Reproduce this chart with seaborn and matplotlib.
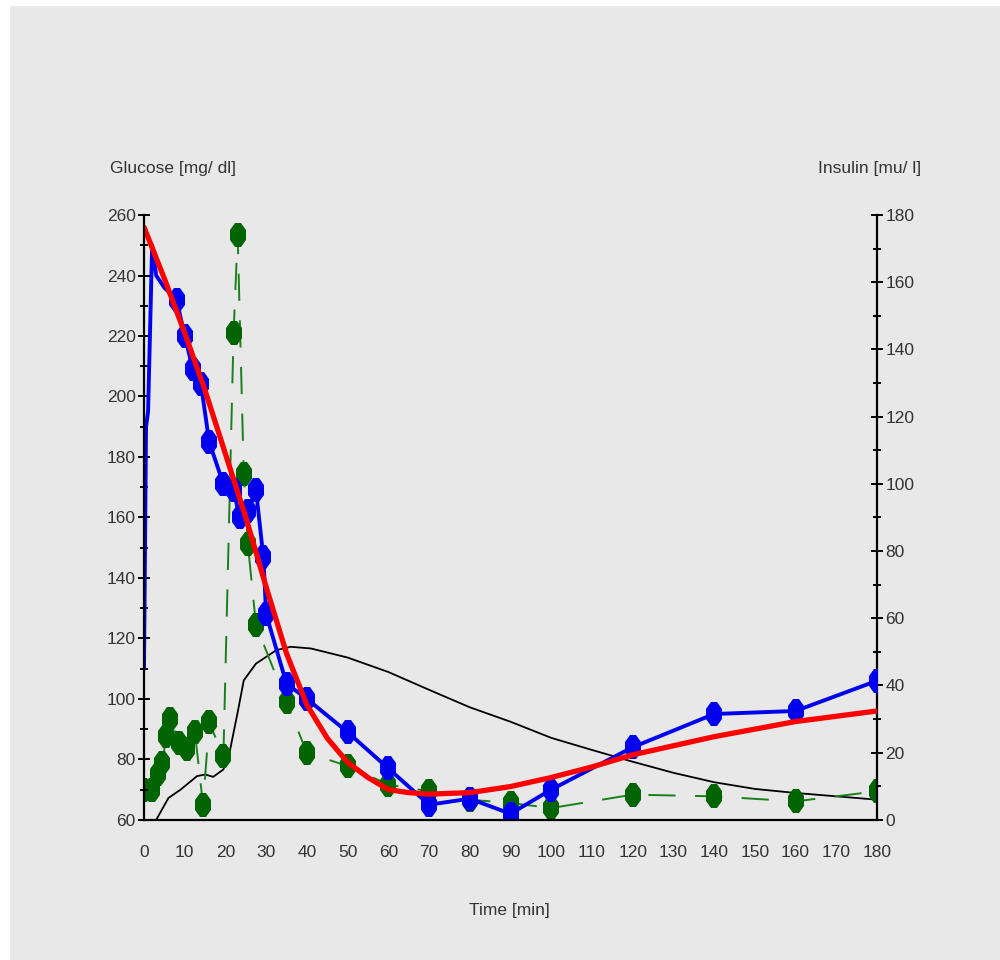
import matplotlib
matplotlib.use("Agg")
import matplotlib.pyplot as plt
from matplotlib.markers import MarkerStyle
from matplotlib.transforms import Affine2D
from matplotlib.patches import Rectangle
import seaborn as sns
import pandas as pd

# ---------------- data ----------------
gluc_t = [0, 0.5, 1, 2, 3, 5, 8, 10, 12, 14, 16, 19.5, 22, 23.5, 25.5, 27.5, 29.3, 30, 35, 40, 50, 60, 70, 80, 90, 100, 120, 140, 160, 180]
gluc_v = [110, 190, 195, 250, 240, 236, 232, 220, 209, 204, 185, 171, 169, 160, 162, 169, 147, 128, 105, 100, 89, 77, 65, 67, 62, 70, 84, 95, 96, 106]
gluc_marker_start = 6

ins_t = [0, 2, 3.5, 4.5, 5.5, 6.5, 8.5, 10.5, 12.5, 14.5, 16, 19.5, 22, 23, 24.5, 25.5, 27.5, 35, 40, 50, 60, 70, 80, 90, 100, 120, 140, 160, 180]
ins_v = [9, 9, 13.5, 17, 25, 30, 23, 21, 26, 4.5, 29, 19, 145, 174, 103, 82, 58, 35, 20, 16, 10.5, 8.5, 6, 5, 3.5, 7.5, 7, 5.5, 8.5]

model_glu_t = [0, 5, 10, 15, 20, 25, 30, 35, 40, 45, 50, 55, 60, 65, 70, 80, 90, 100, 110, 120, 140, 160, 180]
model_glu_v = [256, 239, 221, 202, 181, 160, 137, 115, 98, 87, 79, 74, 70, 69, 68.5, 69, 71, 74, 77.5, 81.5, 87.5, 92.5, 96]

model_ins_t = [3, 6, 9, 13, 15, 17, 19.5, 21, 23, 24.5, 27.5, 32.5, 36, 41, 50, 60, 70, 80, 90, 100, 110, 120, 130, 140, 150, 160, 170, 180]
model_ins_v = [0, 6.5, 9, 13, 13.5, 12.8, 15, 20, 32, 41.5, 46.5, 50.5, 51.5, 51, 48.3, 44, 38.7, 33.5, 29.2, 24.4, 20.8, 17.3, 14, 11.2, 9.2, 8, 7, 6]

x_ticks = list(range(0, 181, 10))
glu_ticks = list(range(60, 261, 20))
ins_ticks = list(range(0, 181, 20))

x_label = "Time [min]"
glu_label = "Glucose [mg/ dl]"
ins_label = "Insulin [mu/ l]"

# ---------------- style ----------------
sns.set_style("white")
BG = "#e8e8e8"
FONT = ["Liberation Sans", "DejaVu Sans"]
plt.rcParams["font.family"] = FONT
plt.rcParams["axes.facecolor"] = BG
plt.rcParams["figure.facecolor"] = BG

fig = plt.figure(figsize=(10, 9.6), dpi=100)
fig.patches.append(Rectangle((0, 0), 0.009, 1, transform=fig.transFigure, color="white", zorder=-1))
fig.patches.append(Rectangle((0, 0.995), 1, 0.005, transform=fig.transFigure, color="white", zorder=-1))

ax = fig.add_axes([0.144, 0.146, 0.733, 0.630])
ax2 = ax.twinx()
ax.set_zorder(ax2.get_zorder() + 1)
ax.patch.set_visible(False)
ax2.patch.set_facecolor(BG)

df_glu = pd.DataFrame({"t": gluc_t, "v": gluc_v})
df_ins = pd.DataFrame({"t": ins_t, "v": ins_v})
df_mglu = pd.DataFrame({"t": model_glu_t, "v": model_glu_v})
df_mins = pd.DataFrame({"t": model_ins_t, "v": model_ins_v})

oct_marker = MarkerStyle("8", transform=Affine2D().scale(0.66, 1.0))

# insulin (right axis)
sns.lineplot(data=df_mins, x="t", y="v", ax=ax2, color="black", lw=1.3, sort=False, estimator=None)
sns.lineplot(data=df_ins, x="t", y="v", ax=ax2, color="#1a801a", lw=1.4, sort=False, estimator=None,
             dashes=False, linestyle=(0, (14, 10)), marker=oct_marker, markersize=18,
             markeredgewidth=0, markerfacecolor="#006400")

# glucose (left axis)
sns.lineplot(data=df_glu, x="t", y="v", ax=ax, color="#0000ee", lw=2.8, sort=False, estimator=None,
             marker=oct_marker, markersize=18, markeredgewidth=0,
             markevery=list(range(gluc_marker_start, len(gluc_t))))
sns.lineplot(data=df_mglu, x="t", y="v", ax=ax, color="#ff0000", lw=3.8, sort=False, estimator=None)

ax.set_xlim(0, 180)
ax.set_ylim(60, 260)
ax2.set_ylim(0, 180)
ax.set_xticks(x_ticks)
ax.set_xticks(list(range(0, 181, 5)), minor=True)
ax.set_yticks(glu_ticks)
ax.set_yticks(list(range(60, 261, 10)), minor=True)
ax2.set_yticks(ins_ticks)
ax2.set_yticks(list(range(0, 181, 10)), minor=True)

for a in (ax, ax2):
    a.set_xlabel("")
    a.set_ylabel("")
    a.spines["top"].set_visible(False)
    for s in ("left", "right", "bottom"):
        a.spines[s].set_color("black")
        a.spines[s].set_linewidth(1.6)
    a.tick_params(which="both", direction="inout", length=8, width=1.4, color="black",
                  labelsize=12.5, labelcolor="#333333")
    a.tick_params(which="minor", length=6)

ax.tick_params(axis="x", which="both", length=12, pad=12)
ax.tick_params(axis="y", pad=2)
ax2.tick_params(axis="y", pad=2)
ax.spines["right"].set_visible(False)
ax2.spines["left"].set_visible(False)
ax2.spines["bottom"].set_visible(False)

fig.text(0.110, 0.825, glu_label, ha="left", va="center", fontsize=12.5, color="#333333")
fig.text(0.818, 0.825, ins_label, ha="left", va="center", fontsize=12.5, color="#333333")
fig.text(0.509, 0.052, x_label, ha="center", va="center", fontsize=12.5, color="#333333")

fig.savefig("out.png", dpi=100, facecolor=BG)
